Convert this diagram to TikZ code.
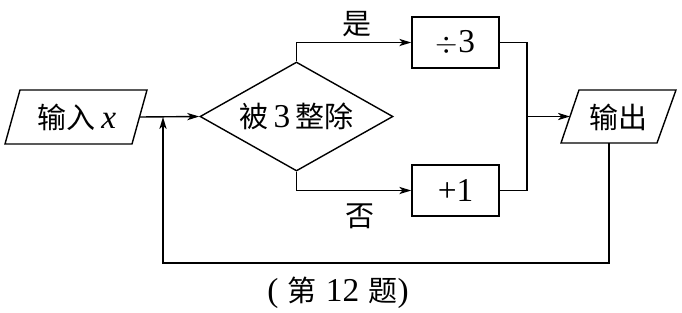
\documentclass[tikz,border=0pt]{standalone}
\usepackage{fontspec}
\setmainfont[Scale=1.15]{Liberation Serif}
\newfontfamily\cjkfont{Noto Sans CJK SC}
\newcommand\zh[1]{{\cjkfont #1}}
\usetikzlibrary{shapes.geometric,arrows.meta}
\begin{document}
\begin{tikzpicture}[x=0.5pt,y=-0.5pt,line width=0.7pt,
  font=\fontsize{14.5}{17}\selectfont,
  >={Stealth[length=6pt,width=3.6pt,inset=1.6pt]},
  procbox/.style={draw,rectangle,minimum width=43.5pt,minimum height=25.5pt,inner sep=0pt},
  decbox/.style={draw,diamond,shape aspect=1.77,minimum width=96.5pt,minimum height=54.5pt,inner sep=0pt},
  txt/.style={inner sep=0pt}]
\useasboundingbox (0,0) rectangle (682,312);
% input parallelogram
\draw (5,144) -- (20,90) -- (147,90) -- (132,144) -- cycle;
\node[txt] (in) at (77,117) {\zh{输入}\,\textit{x}};
\coordinate (inE) at (139.5,117);
% decision
\node[decbox] (dec) at (296.5,116.5) {\zh{被}\,3\,\zh{整除}};
% process boxes
\node[procbox] (div) at (455.5,42.5) {$\div$3};
\node[procbox] (add) at (455.5,190.5) {+1};
% output parallelogram
\draw (561,143) -- (579,90) -- (676,90) -- (657,143) -- cycle;
\node[txt] (out) at (618,117) {\zh{输出}};
\coordinate (outW) at (570,116.5);
\coordinate (outB) at (609,143);
\coordinate (j) at (527,116.5);
\coordinate (fb) at (163,263);
\coordinate (merge) at (163,117);
% connectors
\draw[->] (inE) -- (dec.west);
\draw[->] (dec.north) |- (div.west);
\draw[->] (dec.south) |- (add.west);
\draw (div.east) -| (j) |- (add.east);
\draw[->] (j) -- (outW);
\draw[->] (outB) |- (fb) -- (merge);
% labels
\node[txt] (yes) at (357,24) {\zh{是}};
\node[txt] (no) at (360,216) {\zh{否}};
\node[txt] (cap) at (338,293) {(\;\zh{第}\;12\;\zh{题})};
\end{tikzpicture}
\end{document}
